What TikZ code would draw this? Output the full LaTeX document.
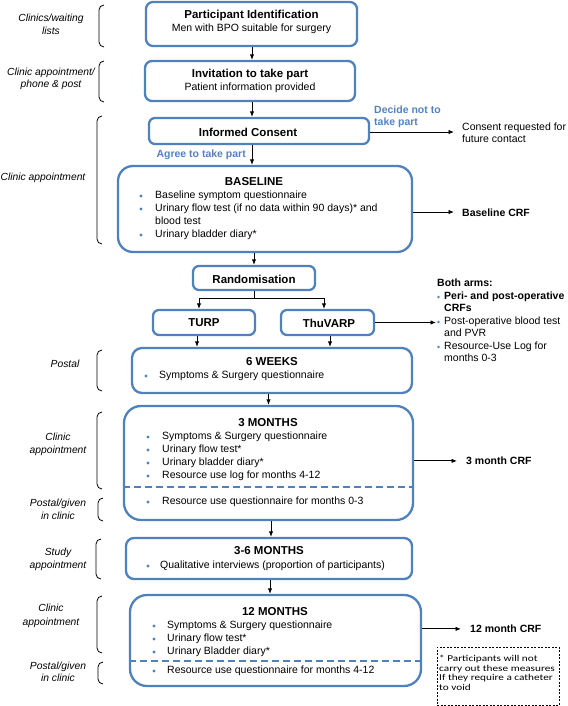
\documentclass[tikz,border=0pt]{standalone}
\usepackage{fontspec}
\setmainfont{Liberation Sans}
\newfontfamily\notefont[FakeStretch=1.25]{Carlito}
\usetikzlibrary{arrows.meta}
\definecolor{bx}{RGB}{79,129,189}
\definecolor{bt}{RGB}{84,130,190}
\tikzset{
  box/.style={draw=bx, line width=2.3pt, fill=white, rounded corners=#1, inner sep=0pt},
  box/.default=7pt,
  arr/.style={-{Latex[length=5.5pt,width=4.5pt]}, line width=0.9pt},
  ln/.style={anchor=mid west, inner sep=0pt, font=\fontsize{10.5}{13}\selectfont},
  bln/.style={anchor=mid west, inner sep=0pt, font=\fontsize{10.5}{13}\selectfont\bfseries},
  tl/.style={anchor=center, inner sep=0pt, font=\fontsize{11.5}{13}\selectfont\bfseries},
  sub/.style={anchor=mid, inner sep=0pt, font=\fontsize{10.5}{13}\selectfont},
  lab/.style={anchor=mid, inner sep=0pt, font=\fontsize{10.3}{13}\selectfont\itshape},
  blue/.style={anchor=mid west, inner sep=0pt, text=bt, font=\fontsize{10.5}{13}\selectfont\bfseries},
  nt/.style={anchor=mid west, inner sep=0pt, font=\fontsize{9}{10}\notefont},
  brk/.style={line width=0.8pt, rounded corners=5pt},
  dv/.style={draw=bx, line width=1.7pt, dash pattern=on 7pt off 4pt},
  dot/.style={fill=bx}
}
\begin{document}
\begin{tikzpicture}[x=1pt,y=-1pt]
\useasboundingbox (0,0) rectangle (567,706);

% ---------- left brackets and labels ----------
\foreach \a/\b/\x in {5/47/99, 61/102/99, 116/244/97, 350/391/97, 412/489/97, 498/521/98, 539/579/96, 596/653/97, 662/684/98}
  \draw[brk] (\x+5,\a) -- (\x,\a) -- (\x,\b) -- (\x+5,\b);

\node[lab] (l1a) at (51,19) {Clinics/waiting};
\node[lab] (l1b) at (51,32) {lists};
\node[lab] (l2a) at (51,73) {Clinic appointment/};
\node[lab] (l2b) at (51,85) {phone \& post};
\node[lab] (l3) at (43,178) {Clinic appointment};
\node[lab] (l4) at (65,365) {Postal};
\node[lab] (l5a) at (58,438) {Clinic};
\node[lab] (l5b) at (58,451) {appointment};
\node[lab] (l6a) at (58,504) {Postal/given};
\node[lab] (l6b) at (58,517) {in clinic};
\node[lab] (l7a) at (58,553) {Study};
\node[lab] (l7b) at (58,566) {appointment};
\node[lab] (l8a) at (51,609) {Clinic};
\node[lab] (l8b) at (51,623) {appointment};
\node[lab] (l9a) at (58,667) {Postal/given};
\node[lab] (l9b) at (58,679) {in clinic};

% ---------- boxes ----------
\node[box, minimum width=211pt, minimum height=44pt] (p1) at (251.5,24) {};
\node[box, minimum width=210pt, minimum height=40pt] (p2) at (250,81) {};
\node[box=6pt, minimum width=220pt, minimum height=26pt] (ic) at (259,131) {};
\node[box=15pt, minimum width=294pt, minimum height=86pt] (bl) at (265,209) {};
\node[box=6pt, minimum width=122pt, minimum height=24pt] (rd) at (254,278) {};
\node[box=6pt, minimum width=102pt, minimum height=25pt] (turp) at (204,322.5) {};
\node[box=6pt, minimum width=93pt, minimum height=25pt] (thu) at (327.5,322.5) {};
\node[box=10pt, minimum width=280pt, minimum height=45pt] (w6) at (272,370.5) {};
\node[box=17pt, minimum width=289pt, minimum height=114pt] (m3) at (268.5,463) {};
\node[box=8pt, minimum width=286pt, minimum height=41pt] (m36) at (269,558.5) {};
\node[box=17pt, minimum width=291pt, minimum height=91pt] (m12) at (275.5,640.5) {};
\node[draw, line width=0.8pt, dash pattern=on 2pt off 1.5pt, minimum width=122pt, minimum height=58pt, inner sep=0pt] (note) at (498,676) {};

% dashed dividers
\draw[dv] (m3.west |- 0,487) -- (m3.east |- 0,487);
\draw[dv] (m12.west |- 0,661) -- (m12.east |- 0,661);

% ---------- box texts ----------
\node[tl] (p1t) at (251.5,16) {Participant Identification};
\node[sub] (p1s) at (251.5,29) {Men with BPO suitable for surgery};
\node[tl] (p2t) at (250,75) {Invitation to take part};
\node[sub] (p2s) at (250,88) {Patient information provided};
\node[tl] (ict) at (248,132) {Informed Consent};

\node[tl] (blt) at (254,182) {BASELINE};
\foreach \y in {196,209,235} \fill[dot] (141,\y) circle (1.7pt);
\node[ln] (bl1) at (155,196) {Baseline symptom questionnaire};
\node[ln] (bl2) at (155,209) {Urinary flow test (if no data within 90 days)* and};
\node[ln] (bl3) at (155,222) {blood test};
\node[ln] (bl4) at (155,235) {Urinary bladder diary*};

\node[tl] (rdt) at (254,279) {Randomisation};
\node[tl] (turpt) at (204,323) {TURP};
\node[tl] (thut) at (329,323) {ThuVARP};

\node[tl] (w6t) at (272,362) {6 WEEKS};
\fill[dot] (146,376) circle (1.7pt);
\node[ln] (w61) at (159,376) {Symptoms \& Surgery questionnaire};

\node[tl] (m3t) at (268,423) {3 MONTHS};
\foreach \y in {437,450,463,476,502} \fill[dot] (148,\y) circle (1.7pt);
\node[ln] (m31) at (162,437) {Symptoms \& Surgery questionnaire};
\node[ln] (m32) at (162,450) {Urinary flow test*};
\node[ln] (m33) at (162,463) {Urinary bladder diary*};
\node[ln] (m34) at (162,476) {Resource use log for months 4-12};
\node[ln] (m35) at (162,502) {Resource use questionnaire for months 0-3};

\node[tl] (m36t) at (269,551) {3-6 MONTHS};
\fill[dot] (148,566) circle (1.7pt);
\node[ln] (m361) at (160,566) {Qualitative interviews (proportion of participants)};

\node[tl] (m12t) at (275,612) {12 MONTHS};
\foreach \y in {626,639,652,671} \fill[dot] (154,\y) circle (1.7pt);
\node[ln] (m121) at (167,626) {Symptoms \& Surgery questionnaire};
\node[ln] (m122) at (167,639) {Urinary flow test*};
\node[ln] (m123) at (167,652) {Urinary Bladder diary*};
\node[ln] (m124) at (167,671) {Resource use questionnaire for months 4-12};

% ---------- side texts ----------
\node[blue] (dn1) at (374,111) {Decide not to};
\node[blue] (dn2) at (374,123) {take part};
\node[blue, anchor=mid east] (ag) at (246,155) {Agree to take part};
\node[ln] (cr1) at (462,128) {Consent requested for};
\node[ln] (cr2) at (462,140) {future contact};
\node[bln] (bcrf) at (462,214) {Baseline CRF};
\node[bln] (ba) at (437,284) {Both arms:};
\foreach \y in {297,322,347} \fill[dot] (438.5,\y) circle (1.4pt);
\node[bln] (ba1) at (444,297) {Peri- and post-operative};
\node[bln] (ba2) at (444,309) {CRFs};
\node[ln] (ba3) at (444,322) {Post-operative blood test};
\node[ln] (ba4) at (444,334) {and PVR};
\node[ln] (ba5) at (444,347) {Resource-Use Log for};
\node[ln] (ba6) at (444,359) {months 0-3};
\node[bln] (crf3) at (466,462) {3 month CRF};
\node[bln] (crf12) at (470,630) {12 month CRF};

\node[nt] (n1) at (439,659) {* Participants will not};
\node[nt] (n2) at (439,668.5) {carry out these measures};
\node[nt] (n3) at (439,678) {If they require a catheter};
\node[nt] (n4) at (439,688) {to void};

% ---------- connectors ----------
\coordinate (ax) at (252,0);
\draw[arr] (ax |- p1.south) -- (ax |- p2.north);
\draw[arr] (ax |- p2.south) -- (ax |- ic.north);
\draw[arr] (ax |- ic.south) -- (ax |- bl.north);
\draw[arr, shorten >=8pt] (ic.east |- 0,132) -- (cr1.west |- 0,132);
\draw[arr, shorten >=8pt] (bl.east |- 0,212) -- (bcrf.west |- 0,212);
\draw[arr] (rd.north |- bl.south) -- (rd.north);
\coordinate (sl) at (199,298);
\coordinate (sr) at (324,298);
\draw[line width=0.9pt] (rd.south) -- (rd.south |- sl);
\draw[line width=0.9pt] (sl) -- (sr);
\draw[arr] (sl) -- (sl |- turp.north);
\draw[arr] (sr) -- (sr |- thu.north);
\draw[arr] ([xshift=-7pt]turp.south) -- ([xshift=-7pt]turp.south |- w6.north);
\draw[arr] ([xshift=2.5pt]thu.south) -- ([xshift=2.5pt]thu.south |- w6.north);
\draw[arr, shorten >=8pt] (thu.east) -- (thu.east -| ba3.west);
\draw[arr] (m3.north |- w6.south) -- (m3.north);
\draw[arr, shorten >=9pt] (m3.east |- crf3) -- (crf3.west);
\draw[arr] ([xshift=2.5pt]m3.south) -- ([xshift=2.5pt]m3.south |- m36.north);
\draw[arr] ([xshift=1pt]m36.south) -- ([xshift=1pt]m36.south |- m12.north);
\draw[arr, shorten >=9pt] (m12.east |- crf12) -- (crf12.west);
\end{tikzpicture}
\end{document}
